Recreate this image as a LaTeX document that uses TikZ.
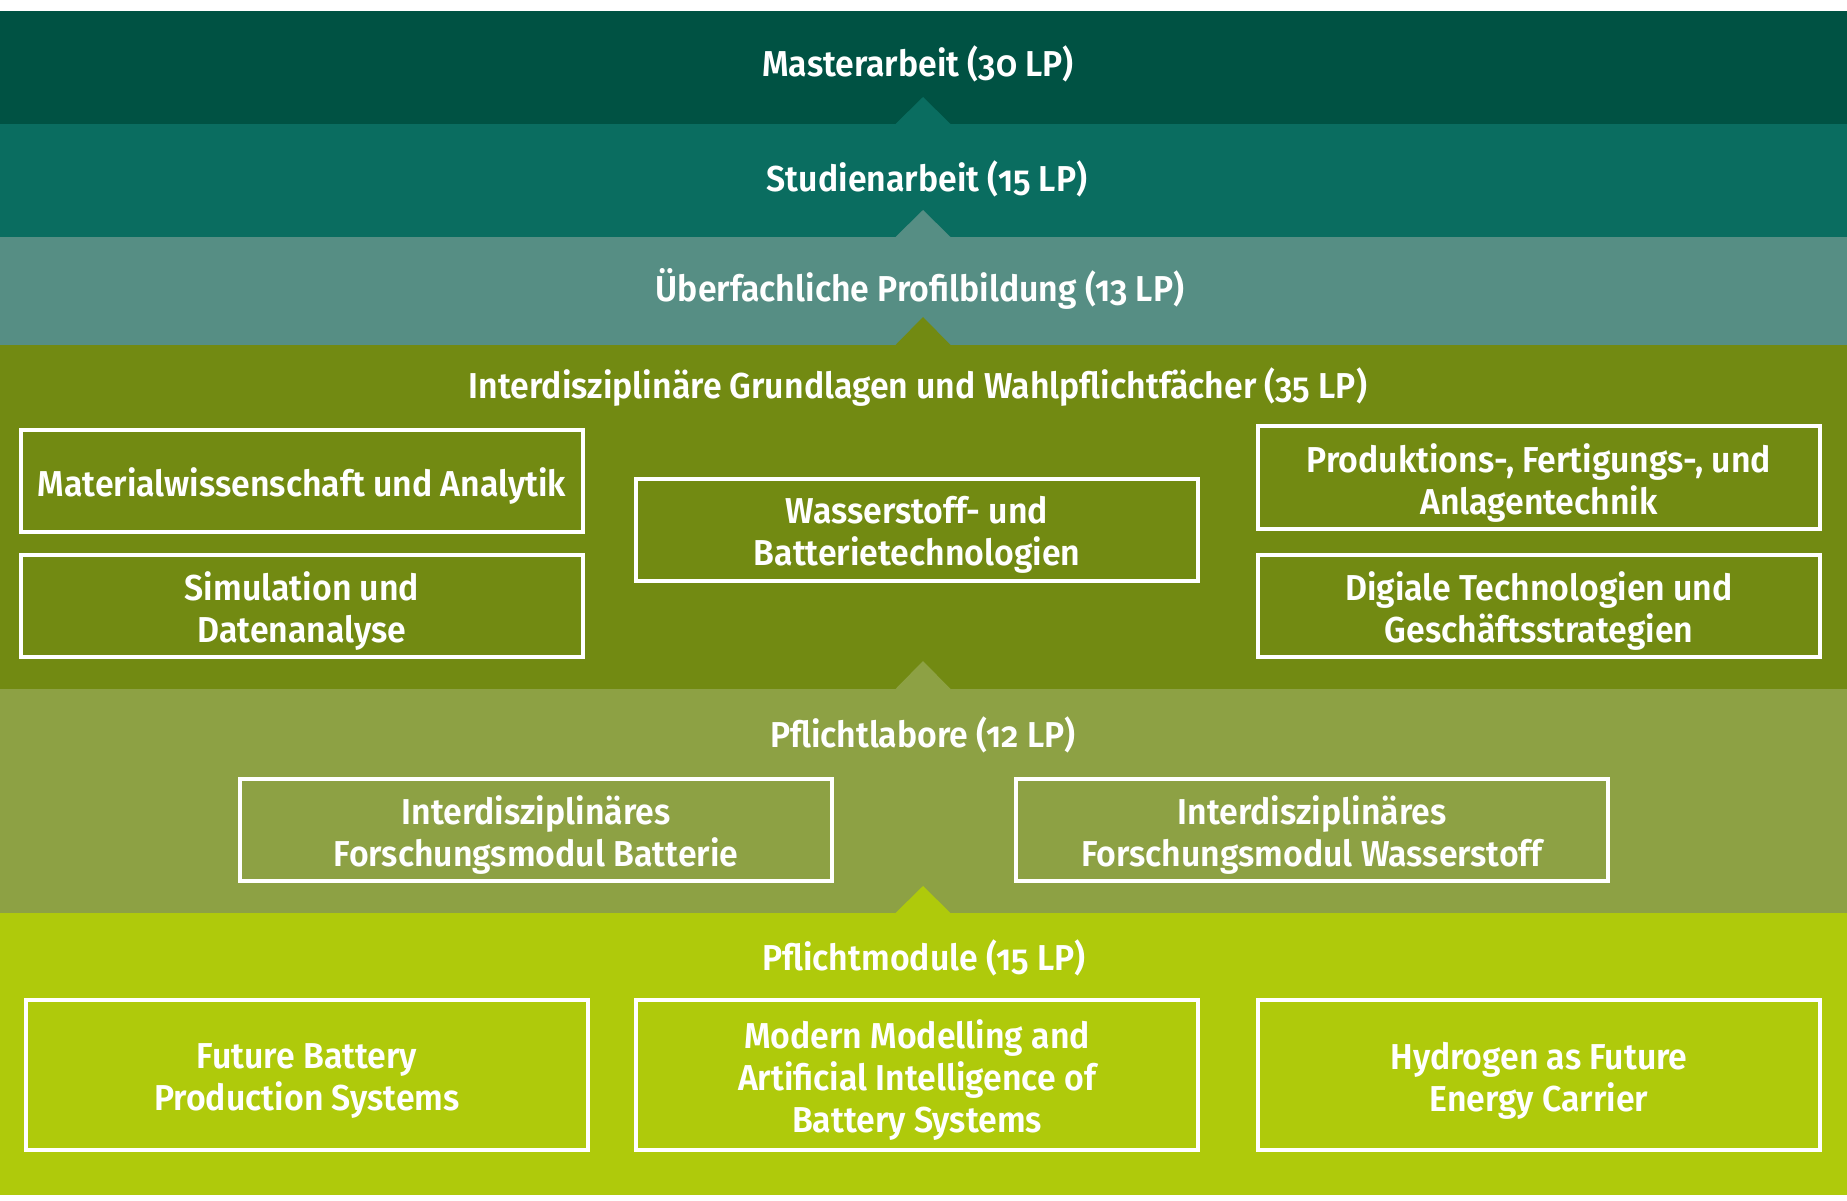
\documentclass[tikz,border=0pt]{standalone}
\usepackage{fontspec}
\setmainfont{Fira Sans}[UprightFont={* SemiBold}, BoldFont={* Bold}, Numbers=OldStyle, FakeStretch=0.94]
\definecolor{bandA}{HTML}{005243}
\definecolor{bandB}{HTML}{0A6D60}
\definecolor{bandC}{HTML}{568E84}
\definecolor{bandD}{HTML}{728A12}
\definecolor{bandE}{HTML}{8DA144}
\definecolor{bandF}{HTML}{AFCA0B}
\tikzset{
  txt/.style={text=white, font=\fontsize{36}{42}\selectfont, align=center, inner sep=0pt},
  modbox/.style={draw=white, line width=4pt, minimum width=562pt, minimum height=102pt, inner sep=0pt},
  boxtext/.style={txt, yshift=-5pt},
  title/.style={txt},
}
\begin{document}
\begin{tikzpicture}[x=1pt,y=-1pt]
\useasboundingbox (0,0) rectangle (1847,1200);
\fill[white] (0,0) rectangle (1847,1200);
% bands
\fill[bandA] (0,11) rectangle (1847,124);
\fill[bandB] (0,124) rectangle (1847,237);
\fill[bandC] (0,237) rectangle (1847,345);
\fill[bandD] (0,345) rectangle (1847,689);
\fill[bandE] (0,689) rectangle (1847,913);
\fill[bandF] (0,913) rectangle (1847,1195);
% triangles
\fill[bandB] (895.5,124) -- (923,97) -- (950.5,124) -- cycle;
\fill[bandC] (895.5,237) -- (923,210) -- (950.5,237) -- cycle;
\fill[bandD] (895.5,345) -- (923,317) -- (950.5,345) -- cycle;
\fill[bandE] (895.5,689) -- (923,661) -- (950.5,689) -- cycle;
\fill[bandF] (895.5,913) -- (923,886) -- (950.5,913) -- cycle;
% titles
\node[title] (t1) at (918,63.5) {Masterarbeit (30 LP)};
\node[title] (t2) at (927,178.5) {Studienarbeit (15 LP)};
\node[title] (t3) at (920,289) {Überfachliche Profilbildung (13 LP)};
\node[title] (t4) at (918,387.5) {Interdisziplinäre Grundlagen und Wahlpflichtfächer (35 LP)};
\node[title] (t5) at (923,734.5) {Pflichtlabore (12 LP)};
\node[title] (t6) at (924,958) {Pflichtmodule (15 LP)};
% band D boxes
\node[modbox] (mat) at (302,481) {};
\node[boxtext] (matT) at (mat.center) {Materialwissenschaft und Analytik};
\node[modbox] (sim) at (302,606) {};
\node[boxtext] (simT) at (sim.center) {Simulation und\\Datenanalyse};
\node[modbox] (was) at (917,530) {};
\node[boxtext] (wasT) at (was.center) {Wasserstoff- und\\Batterietechnologien};
\node[modbox, minimum height=103pt] (prod) at (1539,477.5) {};
\node[boxtext] (prodT) at (prod.center) {Produktions-, Fertigungs-, und\\Anlagentechnik};
\node[modbox] (dig) at (1539,606) {};
\node[boxtext] (digT) at (dig.center) {Digiale Technologien und\\Geschäftsstrategien};
% band E boxes
\node[modbox, minimum width=592pt] (lbat) at (536,830) {};
\node[boxtext] (lbatT) at (lbat.center) {Interdisziplinäres\\Forschungsmodul Batterie};
\node[modbox, minimum width=592pt] (lwas) at (1312,830) {};
\node[boxtext] (lwasT) at (lwas.center) {Interdisziplinäres\\Forschungsmodul Wasserstoff};
% band F boxes
\node[modbox, minimum height=150pt] (fbp) at (307,1075) {};
\node[boxtext, yshift=-1pt] (fbpT) at (fbp.center) {Future Battery\\Production Systems};
\node[modbox, minimum height=150pt] (mma) at (917,1075) {};
\node[boxtext] (mmaT) at (mma.center) {Modern Modelling and\\Artificial Intelligence of\\Battery Systems};
\node[modbox, minimum height=150pt] (hyd) at (1539,1075) {};
\node[boxtext, yshift=-1pt] (hydT) at (hyd.center) {Hydrogen as Future\\Energy Carrier};
\end{tikzpicture}
\end{document}
